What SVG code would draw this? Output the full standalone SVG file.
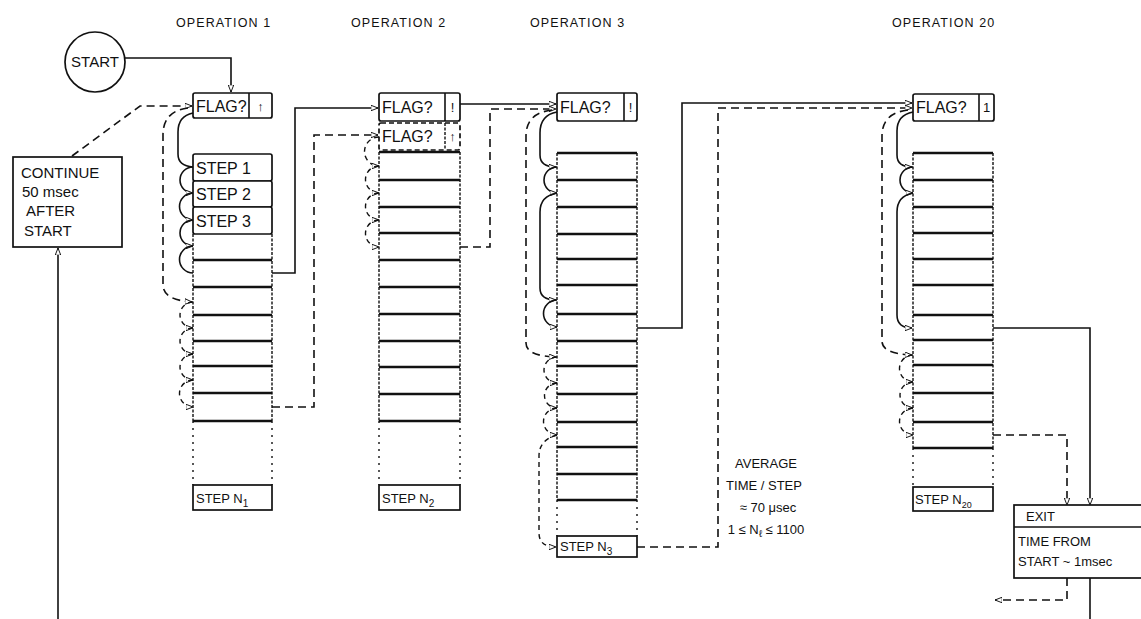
<svg xmlns="http://www.w3.org/2000/svg" width="1141" height="619" viewBox="0 0 1141 619">
<style>
text{font-family:"Liberation Sans",Arial,sans-serif;fill:#111}
.op{font-size:12.5px;letter-spacing:1.1px}
.lbl{font-size:16px}
.sm{font-size:13px}
.box{fill:#fff;stroke:#111;stroke-width:1.7}
.cell{stroke:#111;stroke-width:2.3;fill:none}
.side{stroke:#111;stroke-width:1.4;stroke-dasharray:3 1.5;fill:none}
.dots{stroke:#111;stroke-width:1.4;stroke-dasharray:2 5;fill:none}
.ln{stroke:#111;stroke-width:1.6;fill:none}
.dl{stroke:#111;stroke-width:1.6;fill:none;stroke-dasharray:8 5}
.dc{stroke:#111;stroke-width:1.4;fill:none;stroke-dasharray:5 4}
</style>
<defs>
<marker id="ah" viewBox="0 0 10 8" refX="9" refY="4" markerWidth="8" markerHeight="6.4" orient="auto" markerUnits="userSpaceOnUse">
<path d="M0,0.5 L9,4 L0,7.5 Z" fill="#fff" stroke="#111" stroke-width="1.2"/>
</marker>
</defs>
<rect width="1141" height="619" fill="#fff"/>

<g id="titles">
<text class="op" x="176" y="27">OPERATION 1</text>
<text class="op" x="351" y="27">OPERATION 2</text>
<text class="op" x="530" y="27">OPERATION 3</text>
<text class="op" x="892" y="27">OPERATION 20</text>
</g>

<g id="start">
<circle cx="95" cy="62" r="30" class="box"/>
<text x="95" y="67" font-size="15" text-anchor="middle">START</text>
</g>

<g id="continue">
<rect x="13" y="157" width="109" height="90" class="box"/>
<text x="21" y="178" font-size="15">CONTINUE</text>
<text x="22" y="197" font-size="15">50 msec</text>
<text x="26" y="216" font-size="15">AFTER</text>
<text x="24" y="236" font-size="15">START</text>
</g>

<g id="op1">
<rect x="193" y="93" width="79" height="25" rx="2" class="box"/>
<line x1="249" y1="93" x2="249" y2="118" class="ln"/>
<text class="lbl" x="196" y="112">FLAG?</text>
<text class="sm" x="260.5" y="111" text-anchor="middle">↑</text>
<rect x="193" y="154" width="79" height="27" rx="2" class="box"/>
<rect x="193" y="181" width="79" height="26" rx="2" class="box"/>
<rect x="193" y="207" width="79" height="27" rx="2" class="box"/>
<text class="lbl" x="196" y="174">STEP 1</text>
<text class="lbl" x="196" y="200">STEP 2</text>
<text class="lbl" x="196" y="227">STEP 3</text>
<line x1="193" y1="234" x2="193" y2="421" class="side"/>
<line x1="272" y1="234" x2="272" y2="421" class="side"/>
<path class="cell" d="M193,260H272M193,287H272M193,315H272M193,341H272M193,366H272M193,393H272M193,421H272"/>
<line x1="193" y1="421" x2="193" y2="485" class="dots"/>
<line x1="272" y1="421" x2="272" y2="485" class="dots"/>
<rect x="193" y="485" width="79" height="25" class="box"/>
<text class="sm" x="196" y="503">STEP N<tspan font-size="10" dy="4">1</tspan></text>
</g>

<g id="op2">
<rect x="379" y="93" width="81" height="28" rx="2" class="box"/>
<line x1="445" y1="93" x2="445" y2="121" class="ln"/>
<text class="lbl" x="382" y="113">FLAG?</text>
<text class="sm" x="452.5" y="112" text-anchor="middle">!</text>
<rect x="379" y="123" width="81" height="27" rx="2" class="box" stroke-dasharray="5 3"/>
<line x1="445" y1="123" x2="445" y2="150" class="side"/>
<text class="lbl" x="382" y="142">FLAG?</text>
<text class="sm" x="452.5" y="141" text-anchor="middle">↑</text>
<line x1="379" y1="152" x2="379" y2="421" class="side"/>
<line x1="460" y1="152" x2="460" y2="421" class="side"/>
<path class="cell" d="M379,152H460M379,180H460M379,207H460M379,233H460M379,260H460M379,287H460M379,314H460M379,341H460M379,367H460M379,394H460M379,421H460"/>
<line x1="379" y1="421" x2="379" y2="485" class="dots"/>
<line x1="460" y1="421" x2="460" y2="485" class="dots"/>
<rect x="379" y="485" width="81" height="25" class="box"/>
<text class="sm" x="382" y="503">STEP N<tspan font-size="10" dy="4">2</tspan></text>
</g>

<g id="op3">
<rect x="557" y="93" width="80" height="28" rx="2" class="box"/>
<line x1="624" y1="93" x2="624" y2="121" class="ln"/>
<text class="lbl" x="560" y="113">FLAG?</text>
<text class="sm" x="630.5" y="112" text-anchor="middle">!</text>
<line x1="557" y1="153" x2="557" y2="500" class="side"/>
<line x1="637" y1="153" x2="637" y2="500" class="side"/>
<path class="cell" d="M557,153H637M557,180H637M557,207H637M557,234H637M557,259H637M557,285H637M557,314H637M557,341H637M557,366H637M557,394H637M557,422H637M557,447H637M557,474H637M557,500H637"/>
<line x1="557" y1="500" x2="557" y2="536" class="dots"/>
<line x1="637" y1="500" x2="637" y2="536" class="dots"/>
<rect x="557" y="536" width="80" height="21" class="box"/>
<text class="sm" x="560" y="551">STEP N<tspan font-size="10" dy="4">3</tspan></text>
</g>

<g id="op20">
<rect x="913" y="94" width="81" height="27" rx="2" class="box"/>
<line x1="979" y1="94" x2="979" y2="121" class="ln"/>
<text class="lbl" x="916" y="113">FLAG?</text>
<text class="sm" x="986.5" y="112" text-anchor="middle">1</text>
<line x1="913" y1="153" x2="913" y2="448" class="side"/>
<line x1="993" y1="153" x2="993" y2="448" class="side"/>
<path class="cell" d="M913,153H993M913,180H993M913,207H993M913,233H993M913,259H993M913,285H993M913,315H993M913,340H993M913,365H993M913,393H993M913,422H993M913,448H993"/>
<line x1="913" y1="448" x2="913" y2="487" class="dots"/>
<line x1="993" y1="448" x2="993" y2="487" class="dots"/>
<rect x="913" y="487" width="80" height="24" class="box"/>
<text class="sm" x="915" y="504">STEP N<tspan font-size="9" dy="4">20</tspan></text>
</g>

<g id="exit">
<rect x="1014" y="505" width="140" height="73" class="box"/>
<line x1="1014" y1="527" x2="1141" y2="527" class="ln"/>
<text class="sm" x="1026" y="521">EXIT</text>
<text class="sm" x="1018" y="546">TIME FROM</text>
<text class="sm" x="1018" y="566">START ~ 1msec</text>
</g>

<g id="note">
<text class="sm" x="766" y="468" text-anchor="middle">AVERAGE</text>
<text class="sm" x="764" y="490" text-anchor="middle">TIME / STEP</text>
<text class="sm" x="768" y="512" text-anchor="middle">≈ 70 μsec</text>
<text class="sm" x="766" y="534" text-anchor="middle">1 ≤ N<tspan font-size="10" dy="3">ℓ</tspan><tspan dy="-3"> ≤ 1100</tspan></text>
</g>

<g id="connectors">
<path class="ln" d="M125,58H231V92" marker-end="url(#ah)"/>
<path class="dl" d="M72,156L140,106H192" marker-end="url(#ah)"/>
<path class="ln" d="M58,619V248" marker-end="url(#ah)"/>
<path class="ln" d="M272,273H295V108H378" marker-end="url(#ah)"/>
<path class="dl" d="M272,407H314V135H378" marker-end="url(#ah)"/>
<path class="ln" d="M460,104H556" marker-end="url(#ah)"/>
<path class="dl" d="M460,247H490V109H556" marker-end="url(#ah)"/>
<path class="ln" d="M637,328H682V103H912" marker-end="url(#ah)"/>
<path class="dl" d="M637,547H718V108H912" marker-end="url(#ah)"/>
<path class="ln" d="M993,328H1090V505" marker-end="url(#ah)"/>
<path class="dl" d="M993,435H1067V505" marker-end="url(#ah)"/>
<path class="dl" d="M1067,578V600H995" marker-end="url(#ah)"/>
<path class="ln" d="M1090,578V619"/>

<!-- op1 loops -->
<path class="ln" d="M193,113Q178,116 178,132V154Q178,166 193,167"/>
<path class="ln" d="M193,167A13,13 0 0 0 193,193" marker-end="url(#ah)"/>
<path class="ln" d="M193,193A13.5,13.5 0 0 0 193,220" marker-end="url(#ah)"/>
<path class="ln" d="M193,220A13,13 0 0 0 193,246" marker-end="url(#ah)"/>
<path class="ln" d="M193,246A13.5,13.5 0 0 0 193,273"/>
<path class="dl" d="M188,108Q163,111 163,135V285Q163,300 192,302" marker-end="url(#ah)"/>
<path class="dc" d="M193,302A13,13 0 0 0 193,328" marker-end="url(#ah)"/>
<path class="dc" d="M193,328A13,13 0 0 0 193,354" marker-end="url(#ah)"/>
<path class="dc" d="M193,354A13,13 0 0 0 193,380" marker-end="url(#ah)"/>
<path class="dc" d="M193,380A13.5,13.5 0 0 0 193,407" marker-end="url(#ah)"/>

<!-- op2 loops -->
<path class="dc" d="M379,137A14.5,14.5 0 0 0 379,166" marker-end="url(#ah)"/>
<path class="dc" d="M379,166A13.5,13.5 0 0 0 379,193" marker-end="url(#ah)"/>
<path class="dc" d="M379,193A13.5,13.5 0 0 0 379,220" marker-end="url(#ah)"/>
<path class="dc" d="M379,220A13.5,13.5 0 0 0 379,247" marker-end="url(#ah)"/>

<!-- op3 loops -->
<path class="ln" d="M557,112Q540,115 540,133V155Q540,167 556,167" marker-end="url(#ah)"/>
<path class="ln" d="M557,167A13,13 0 0 0 557,193" marker-end="url(#ah)"/>
<path class="ln" d="M557,193Q540,196 540,212V288Q540,300 556,300" marker-end="url(#ah)"/>
<path class="ln" d="M557,300A13.5,13.5 0 0 0 557,327" marker-end="url(#ah)"/>
<path class="dl" d="M552,110Q526,113 526,136V343Q526,356 556,357" marker-end="url(#ah)"/>
<path class="dc" d="M557,357A13,13 0 0 0 557,383" marker-end="url(#ah)"/>
<path class="dc" d="M557,383A12.5,12.5 0 0 0 557,408" marker-end="url(#ah)"/>
<path class="dc" d="M557,408A13.5,13.5 0 0 0 557,435" marker-end="url(#ah)"/>
<path class="dc" d="M557,435Q539,440 539,456V533Q539,547 556,547" marker-end="url(#ah)"/>

<!-- op20 loops -->
<path class="ln" d="M913,112Q897,115 897,131V155Q897,167 912,167" marker-end="url(#ah)"/>
<path class="ln" d="M913,167A13,13 0 0 0 913,193" marker-end="url(#ah)"/>
<path class="ln" d="M913,193Q897,196 897,212V315Q897,328 912,328" marker-end="url(#ah)"/>
<path class="dl" d="M908,110Q882,113 882,136V341Q882,354 912,355" marker-end="url(#ah)"/>
<path class="dc" d="M913,355A13.5,13.5 0 0 0 913,382" marker-end="url(#ah)"/>
<path class="dc" d="M913,382A13,13 0 0 0 913,408" marker-end="url(#ah)"/>
<path class="dc" d="M913,408A13.5,13.5 0 0 0 913,435" marker-end="url(#ah)"/>
</g>
</svg>
